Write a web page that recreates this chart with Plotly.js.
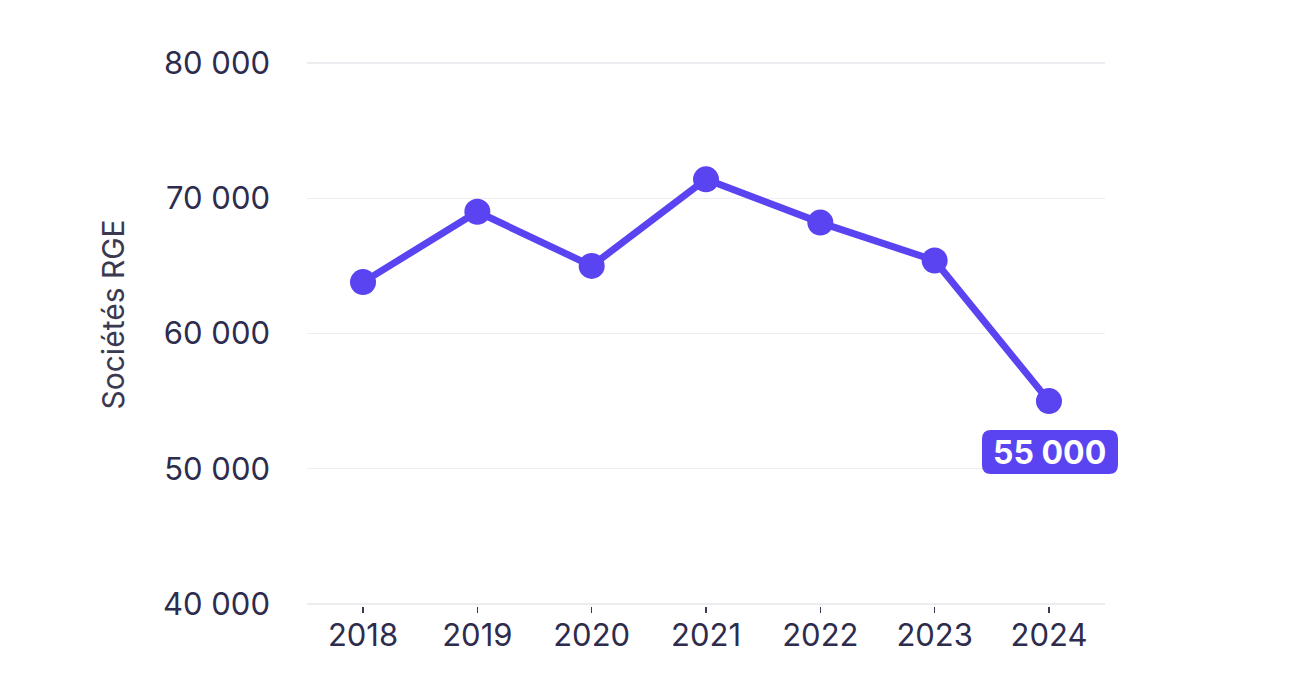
<!DOCTYPE html>
<html><head><meta charset="utf-8">
<script src="https://cdn.plot.ly/plotly-3.0.1.min.js"></script>
<style>html,body{margin:0;padding:0;background:#fff;}#chart{width:1298px;height:692px;}</style>
</head><body><div id="chart"></div>
<script>
const years = ['2018','2019','2020','2021','2022','2023','2024'];
const societes = [63800, 69000, 65000, 71400, 68200, 65400, 55000];
const yTicks = [40000, 50000, 60000, 70000, 80000];
const yTickLabels = ['40 000', '50 000', '60 000', '70 000', '80 000'];
const yTitle = 'Sociétés RGE';
const lastLabel = '55 000';

const purple = '#5a43f0';
const textCol = '#2e2c4d';
const lastIdx = years.length - 1;
const xRange = [-0.49, 6.49];
const yRange = [39850, 80150];

const trace = {
  x: years, y: societes, type: 'scatter', mode: 'lines+markers',
  line: {color: purple, width: 7},
  marker: {color: purple, size: 26},
  cliponaxis: false,
  hoverinfo: 'skip'
};

const r = 9, x0 = -67, x1 = 69, yTop = -29, yBot = -73;
const path = `M ${x0+r} ${yTop} L ${x1-r} ${yTop} Q ${x1} ${yTop} ${x1} ${yTop-r} L ${x1} ${yBot+r} Q ${x1} ${yBot} ${x1-r} ${yBot} L ${x0+r} ${yBot} Q ${x0} ${yBot} ${x0} ${yBot+r} L ${x0} ${yTop-r} Q ${x0} ${yTop} ${x0+r} ${yTop} Z`;
const anchorX = (lastIdx - xRange[0]) / (xRange[1] - xRange[0]);
const anchorY = (societes[lastIdx] - yRange[0]) / (yRange[1] - yRange[0]);

const layout = {
  width: 1298, height: 692,
  margin: {l: 307, r: 193, t: 61, b: 86},
  paper_bgcolor: '#fff', plot_bgcolor: '#fff',
  font: {family: 'Inter, "Noto Sans", sans-serif', color: textCol},
  showlegend: false,
  xaxis: {
    type: 'category', range: xRange,
    showgrid: false, zeroline: false, showline: false,
    ticks: 'outside', ticklen: 6, tickcolor: '#3a3a55', tickwidth: 1.5,
    ticklabelstandoff: -4,
    tickfont: {size: 31, color: textCol}, fixedrange: true
  },
  yaxis: {
    range: yRange, tickvals: yTicks, ticktext: yTickLabels,
    showgrid: true, gridcolor: '#ececf1', gridwidth: 1.5,
    zeroline: false, showline: false, ticks: '',
    ticklabelstandoff: 36,
    tickfont: {size: 31, color: textCol},
    fixedrange: true
  },
  shapes: [{
    type: 'path', xref: 'paper', yref: 'paper',
    xsizemode: 'pixel', ysizemode: 'pixel',
    xanchor: anchorX, yanchor: anchorY,
    path: path, fillcolor: purple, line: {width: 0}, layer: 'above'
  }],
  annotations: [{
    x: lastIdx, y: societes[lastIdx], xref: 'x', yref: 'y',
    text: '<b>' + lastLabel + '</b>', showarrow: false,
    yshift: -51, xshift: 1,
    font: {size: 32, color: '#ffffff', family: 'Inter, "Noto Sans", sans-serif'}
  }, {
    x: 0, y: 0.5, xref: 'paper', yref: 'paper',
    text: yTitle, showarrow: false, textangle: -90,
    xanchor: 'center', yanchor: 'middle', xshift: -195, yshift: 19,
    font: {size: 30, color: '#3a3950'}
  }]
};

Plotly.newPlot('chart', [trace], layout, {displayModeBar: false, staticPlot: true});
</script></body></html>
